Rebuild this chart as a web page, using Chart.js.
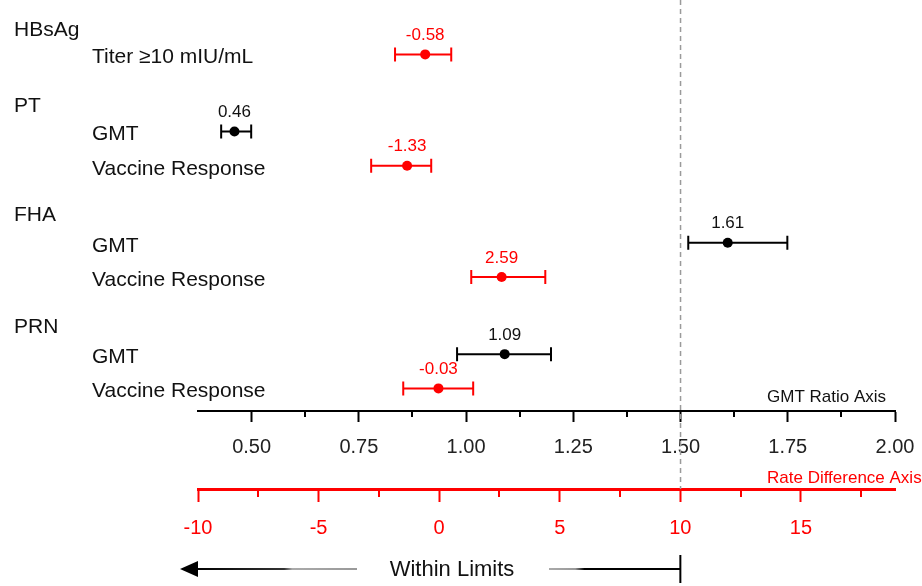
<!DOCTYPE html>
<html>
<head>
<meta charset="utf-8">
<script src="https://cdn.jsdelivr.net/npm/chart.js@4.4.0/dist/chart.umd.min.js"></script>
<style>
  html, body { margin: 0; padding: 0; background: #fff; }
  #wrap { width: 922px; height: 586px; }
</style>
</head>
<body>
<div id="wrap"><canvas id="forest" width="922" height="586"></canvas></div>
<script>
// rows, top to bottom
const groupLabels = ['HBsAg', 'PT', 'FHA', 'PRN'];
const groupY = [0.3, 2.5, 5.7, 8.95];
const rowLabels = ['Titer \u226510 mIU/mL', 'GMT', 'Vaccine Response', 'GMT', 'Vaccine Response', 'GMT', 'Vaccine Response'];
const rowY = [1, 3.25, 4.25, 6.5, 7.5, 9.75, 10.75];

// GMT ratio (black, GMT ratio axis)
const gmtRows = [1, 3, 5];
const gmtValues = [0.46, 1.61, 1.09];
const gmtLower = [0.429, 1.518, 0.979];
const gmtUpper = [0.499, 1.749, 1.198];

// rate difference (red, rate difference axis)
const rdRows = [0, 2, 4, 6];
const rdValues = [-0.58, -1.33, 2.59, -0.03];
const rdLower = [-1.83, -2.82, 1.33, -1.49];
const rdUpper = [0.50, -0.33, 4.40, 1.41];

// axis ticks
const gmtTicks = [0.5, 0.75, 1, 1.25, 1.5, 1.75, 2];
const gmtMinor = [0.625, 0.875, 1.125, 1.375, 1.625, 1.875];
const rdTicks = [-10, -5, 0, 5, 10, 15];
const rdMinor = [-7.5, -2.5, 2.5, 7.5, 12.5, 17.5];
const gmtLimit = 1.5;
const rdLimit = 10;

const FONT = "'Liberation Sans', Arial, sans-serif";
const RED = '#ff0000';
Chart.defaults.font.family = FONT;

function drawBars(ctx, xs, ys, rows, lo, hi, color) {
  ctx.save();
  ctx.strokeStyle = color;
  ctx.lineWidth = 2;
  rows.forEach((r, i) => {
    const y = ys.getPixelForValue(rowY[r]);
    const a = xs.getPixelForValue(lo[i]);
    const b = xs.getPixelForValue(hi[i]);
    ctx.beginPath();
    ctx.moveTo(a, y); ctx.lineTo(b, y);
    ctx.moveTo(a, y - 7); ctx.lineTo(a, y + 7);
    ctx.moveTo(b, y - 7); ctx.lineTo(b, y + 7);
    ctx.stroke();
  });
  ctx.restore();
}

function drawValueLabels(ctx, xs, ys, rows, vals, color) {
  ctx.save();
  ctx.fillStyle = color;
  ctx.font = '17px ' + FONT;
  ctx.textAlign = 'center';
  ctx.textBaseline = 'middle';
  rows.forEach((r, i) => {
    const y = ys.getPixelForValue(rowY[r]);
    ctx.fillText(vals[i].toFixed(2), xs.getPixelForValue(vals[i]), y - 19);
  });
  ctx.restore();
}

function drawMinor(ctx, sc, vals, len, color, w) {
  ctx.save();
  ctx.strokeStyle = color;
  ctx.lineWidth = w;
  ctx.beginPath();
  vals.forEach(v => {
    const x = Math.round(sc.getPixelForValue(v));
    ctx.moveTo(x, sc.top); ctx.lineTo(x, sc.top + len);
  });
  ctx.stroke();
  ctx.restore();
}

const forestPlugin = {
  id: 'forest',
  beforeDatasetsDraw(chart) {
    const ctx = chart.ctx;
    const xs = chart.scales.x, x2 = chart.scales.x2, ys = chart.scales.y;
    // limit line
    const lx = xs.getPixelForValue(gmtLimit);
    ctx.save();
    ctx.strokeStyle = '#9a9a9a';
    ctx.lineWidth = 1.5;
    ctx.setLineDash([5, 4]);
    ctx.beginPath();
    ctx.moveTo(lx, 0);
    ctx.lineTo(lx, x2.top);
    ctx.stroke();
    ctx.restore();

    drawBars(ctx, xs, ys, gmtRows, gmtLower, gmtUpper, '#000');
    drawBars(ctx, x2, ys, rdRows, rdLower, rdUpper, RED);
  },
  afterDraw(chart) {
    const ctx = chart.ctx;
    const xs = chart.scales.x, x2 = chart.scales.x2, ys = chart.scales.y;

    // row labels
    ctx.save();
    ctx.fillStyle = '#111';
    ctx.font = '21px ' + FONT;
    ctx.textAlign = 'left';
    ctx.textBaseline = 'middle';
    groupLabels.forEach((g, i) => ctx.fillText(g, 14, ys.getPixelForValue(groupY[i])));
    rowLabels.forEach((t, i) => ctx.fillText(t, 92, ys.getPixelForValue(rowY[i]) + 3));
    ctx.restore();

    drawValueLabels(ctx, xs, ys, gmtRows, gmtValues, '#111');
    drawValueLabels(ctx, x2, ys, rdRows, rdValues, RED);

    // minor ticks
    drawMinor(ctx, xs, gmtMinor, 6, '#000', 2);
    drawMinor(ctx, x2, rdMinor, 8, RED, 2);

    // axis names
    ctx.save();
    ctx.font = '17px ' + FONT;
    ctx.textAlign = 'left';
    ctx.textBaseline = 'middle';
    ctx.fillStyle = '#111';
    ctx.fillText('GMT Ratio Axis', 767, xs.top - 14);
    ctx.fillStyle = RED;
    ctx.fillText('Rate Difference Axis', 767, x2.top - 11);
    ctx.restore();

    // "Within Limits" arrow
    const ay = 569;
    const endX = x2.getPixelForValue(rdLimit);
    const startX = 180;
    ctx.save();
    ctx.lineWidth = 2;
    let g1 = ctx.createLinearGradient(195, 0, 357, 0);
    g1.addColorStop(0, '#000');
    g1.addColorStop(0.55, '#333');
    g1.addColorStop(0.6, '#aaa');
    g1.addColorStop(1, '#999');
    ctx.strokeStyle = g1;
    ctx.beginPath(); ctx.moveTo(194, ay); ctx.lineTo(357, ay); ctx.stroke();
    ctx.fillStyle = '#000';
    ctx.beginPath();
    ctx.moveTo(startX, ay);
    ctx.lineTo(startX + 18, ay - 8);
    ctx.lineTo(startX + 18, ay + 8);
    ctx.closePath();
    ctx.fill();
    let g2 = ctx.createLinearGradient(549, 0, endX, 0);
    g2.addColorStop(0, '#aaa');
    g2.addColorStop(0.2, '#999');
    g2.addColorStop(0.27, '#000');
    g2.addColorStop(1, '#000');
    ctx.strokeStyle = g2;
    ctx.beginPath(); ctx.moveTo(549, ay); ctx.lineTo(endX, ay); ctx.stroke();
    ctx.strokeStyle = '#000';
    ctx.beginPath(); ctx.moveTo(endX, 555); ctx.lineTo(endX, 583); ctx.stroke();
    ctx.fillStyle = '#111';
    ctx.font = '22px ' + FONT;
    ctx.textAlign = 'center';
    ctx.textBaseline = 'middle';
    ctx.fillText('Within Limits', 452, ay + 1);
    ctx.restore();
  }
};

new Chart(document.getElementById('forest'), {
  type: 'scatter',
  data: {
    datasets: [
      {
        label: 'GMT ratio',
        xAxisID: 'x',
        yAxisID: 'y',
        data: gmtRows.map((r, i) => ({ x: gmtValues[i], y: rowY[r] })),
        pointRadius: 5,
        pointBackgroundColor: '#000',
        pointBorderColor: '#000',
        pointBorderWidth: 0
      },
      {
        label: 'Rate difference',
        xAxisID: 'x2',
        yAxisID: 'y',
        data: rdRows.map((r, i) => ({ x: rdValues[i], y: rowY[r] })),
        pointRadius: 5,
        pointBackgroundColor: RED,
        pointBorderColor: RED,
        pointBorderWidth: 0
      }
    ]
  },
  options: {
    responsive: false,
    animation: false,
    devicePixelRatio: 1,
    layout: { padding: { left: 198, right: 27, top: 0, bottom: 0 } },
    plugins: { legend: { display: false }, tooltip: { enabled: false } },
    scales: {
      y: { type: 'linear', display: false, reverse: true, min: -0.442, max: 11.41 },
      x: {
        type: 'linear', position: 'bottom', weight: 1,
        min: 0.375, max: 2.0,
        afterBuildTicks: sc => { sc.ticks = gmtTicks.map(v => ({ value: v })); },
        afterFit: sc => { sc.height = 78; sc.paddingLeft = 0; sc.paddingRight = 0; },
        border: { display: true, color: '#000', width: 2 },
        grid: { drawOnChartArea: false, drawTicks: true, tickLength: 11, tickColor: '#000', tickWidth: 2 },
        ticks: {
          autoSkip: false, maxRotation: 0, padding: 13, color: '#222',
          font: { size: 20 },
          callback: v => Number(v).toFixed(2)
        }
      },
      x2: {
        type: 'linear', position: 'bottom', weight: 2,
        min: -10, max: 18.9,
        afterBuildTicks: sc => { sc.ticks = rdTicks.map(v => ({ value: v })); },
        afterFit: sc => { sc.height = 97; sc.paddingLeft = 0; sc.paddingRight = 0; },
        border: { display: true, color: RED, width: 3 },
        grid: { drawOnChartArea: false, drawTicks: true, tickLength: 13, tickColor: RED, tickWidth: 2 },
        ticks: {
          autoSkip: false, maxRotation: 0, padding: 14, color: RED,
          font: { size: 20 },
          callback: v => String(v)
        }
      }
    }
  },
  plugins: [forestPlugin]
});
</script>
</body>
</html>
